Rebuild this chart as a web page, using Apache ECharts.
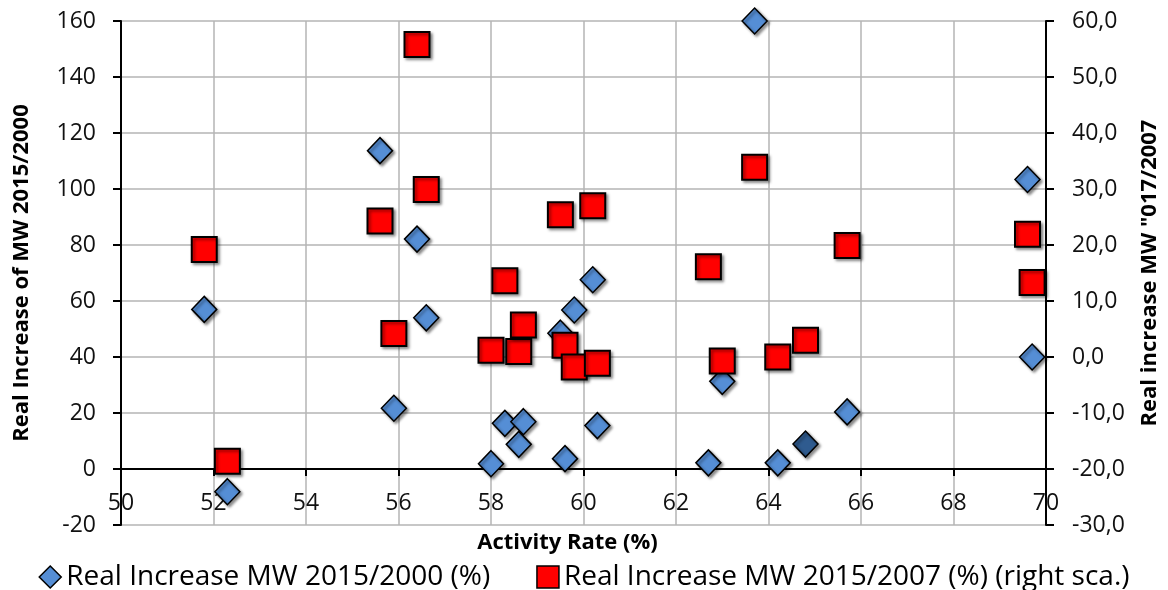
<!DOCTYPE html>
<html><head><meta charset="utf-8">
<script src="https://cdn.jsdelivr.net/npm/echarts@6/dist/echarts.min.js"></script>
<style>html,body{margin:0;padding:0;background:#fff}#c{width:1168px;height:590px}</style>
</head><body><div id="c"></div>
<script>
const activityRate = [51.8, 52.3, 55.6, 55.9, 56.4, 56.6, 58.0, 58.3, 58.6, 58.7, 59.5, 59.6, 59.8, 60.2, 60.3, 62.7, 63.0, 63.7, 64.2, 64.8, 65.7, 69.6, 69.7];
const increase2000 = [57.0, -8.1, 113.7, 21.7, 82.1, 54.0, 1.9, 16.3, 8.8, 16.9, 48.5, 3.7, 56.8, 67.6, 15.5, 2.2, 31.3, 160.0, 2.2, 8.9, 20.4, 103.4, 40.0];
const increase2007 = [19.2, -18.6, 24.3, 4.2, 55.8, 29.9, 1.2, 13.6, 1.0, 5.7, 25.4, 2.1, -1.8, 27.0, -1.1, 16.1, -0.7, 33.9, 0.0, 3.0, 19.9, 21.9, 13.3];
const seriesNames = ['Real Increase MW 2015/2000 (%)', 'Real Increase MW 2015/2007 (%) (right sca.)'];
const xTitle = 'Activity Rate (%)';
const yLeftTitle = 'Real Increase of MW 2015/2000';
const yRightTitle = 'Real increase MW "017/2007';
const highlightX = 64.8;

const FONT = 'Open Sans';
const chart = echarts.init(document.getElementById('c'), null, {renderer: 'canvas'});
const blueData = activityRate.map((x, i) => x === highlightX
  ? {value: [x, increase2000[i]], itemStyle: {color: '#2f5b8f'}}
  : [x, increase2000[i]]);
const redData = activityRate.map((x, i) => [x, increase2007[i]]);
const shadow = {shadowBlur: 3, shadowOffsetX: 2, shadowOffsetY: 2, shadowColor: 'rgba(0,0,0,0.45)'};
chart.setOption({
  animation: false,
  textStyle: {fontFamily: FONT},
  grid: {left: 121, right: 122, top: 21, bottom: 65, containLabel: false, outerBoundsMode: 'none'},
  legend: {
    top: 558, left: 'center', itemGap: 46, itemWidth: 22, itemHeight: 22,
    textStyle: {fontFamily: FONT, fontSize: 28, color: '#000'},
    data: [
      {name: seriesNames[0], icon: 'diamond', itemStyle: {color: '#558ed5', borderColor: '#000', borderWidth: 1.5}},
      {name: seriesNames[1], icon: 'rect', itemStyle: {color: '#ff0000', borderColor: '#000', borderWidth: 1.5}}
    ]
  },
  xAxis: {
    type: 'value', min: 50, max: 70, interval: 2,
    name: xTitle, nameLocation: 'middle', nameGap: 7, nameMoveOverlap: false,
    nameTextStyle: {fontFamily: FONT, fontSize: 22, fontWeight: 'bold', color: '#000', padding: [0, 32, 0, 0]},
    axisLine: {onZero: true, onZeroAxisIndex: 0, lineStyle: {color: '#000', width: 2}},
    axisTick: {show: true, length: 7, lineStyle: {color: '#000', width: 2}},
    axisLabel: {fontFamily: FONT, fontSize: 23, color: '#111', margin: -33},
    splitLine: {show: true, lineStyle: {color: '#b4b4b4', width: 1.5}}
  },
  yAxis: [{
    type: 'value', min: -20, max: 160, interval: 20, position: 'left',
    name: yLeftTitle, nameLocation: 'middle', nameGap: 88, nameRotate: 90,
    nameTextStyle: {fontFamily: FONT, fontSize: 22, fontWeight: 'bold', color: '#000'},
    axisLine: {show: true, onZero: false, lineStyle: {color: '#000', width: 2}},
    axisTick: {show: true, length: 8, lineStyle: {color: '#000', width: 2}},
    axisLabel: {fontFamily: FONT, fontSize: 23, color: '#111', margin: 25},
    splitLine: {show: true, lineStyle: {color: '#b4b4b4', width: 1.5}}
  }, {
    type: 'value', min: -30, max: 60, interval: 10, position: 'right',
    name: yRightTitle, nameLocation: 'middle', nameGap: 93, nameRotate: 90,
    nameTextStyle: {fontFamily: FONT, fontSize: 22, fontWeight: 'bold', color: '#000'},
    axisLine: {show: true, onZero: false, lineStyle: {color: '#000', width: 2}},
    axisTick: {show: true, length: 8, lineStyle: {color: '#000', width: 2}},
    axisLabel: {fontFamily: FONT, fontSize: 23, color: '#111', margin: 26,
      formatter: v => v.toFixed(1).replace('.', ',')},
    splitLine: {show: false}
  }],
  series: [{
    name: seriesNames[0], type: 'scatter', yAxisIndex: 0, symbol: 'diamond', symbolSize: [25, 26],
    itemStyle: Object.assign({color: '#558ed5', borderColor: '#000', borderWidth: 1.5, opacity: 1}, shadow),
    data: blueData
  }, {
    name: seriesNames[1], type: 'scatter', yAxisIndex: 1, symbol: 'rect', symbolSize: 25,
    itemStyle: Object.assign({color: '#ff0000', borderColor: '#000', borderWidth: 2, opacity: 1}, shadow),
    data: redData
  }]
});
</script></body></html>
